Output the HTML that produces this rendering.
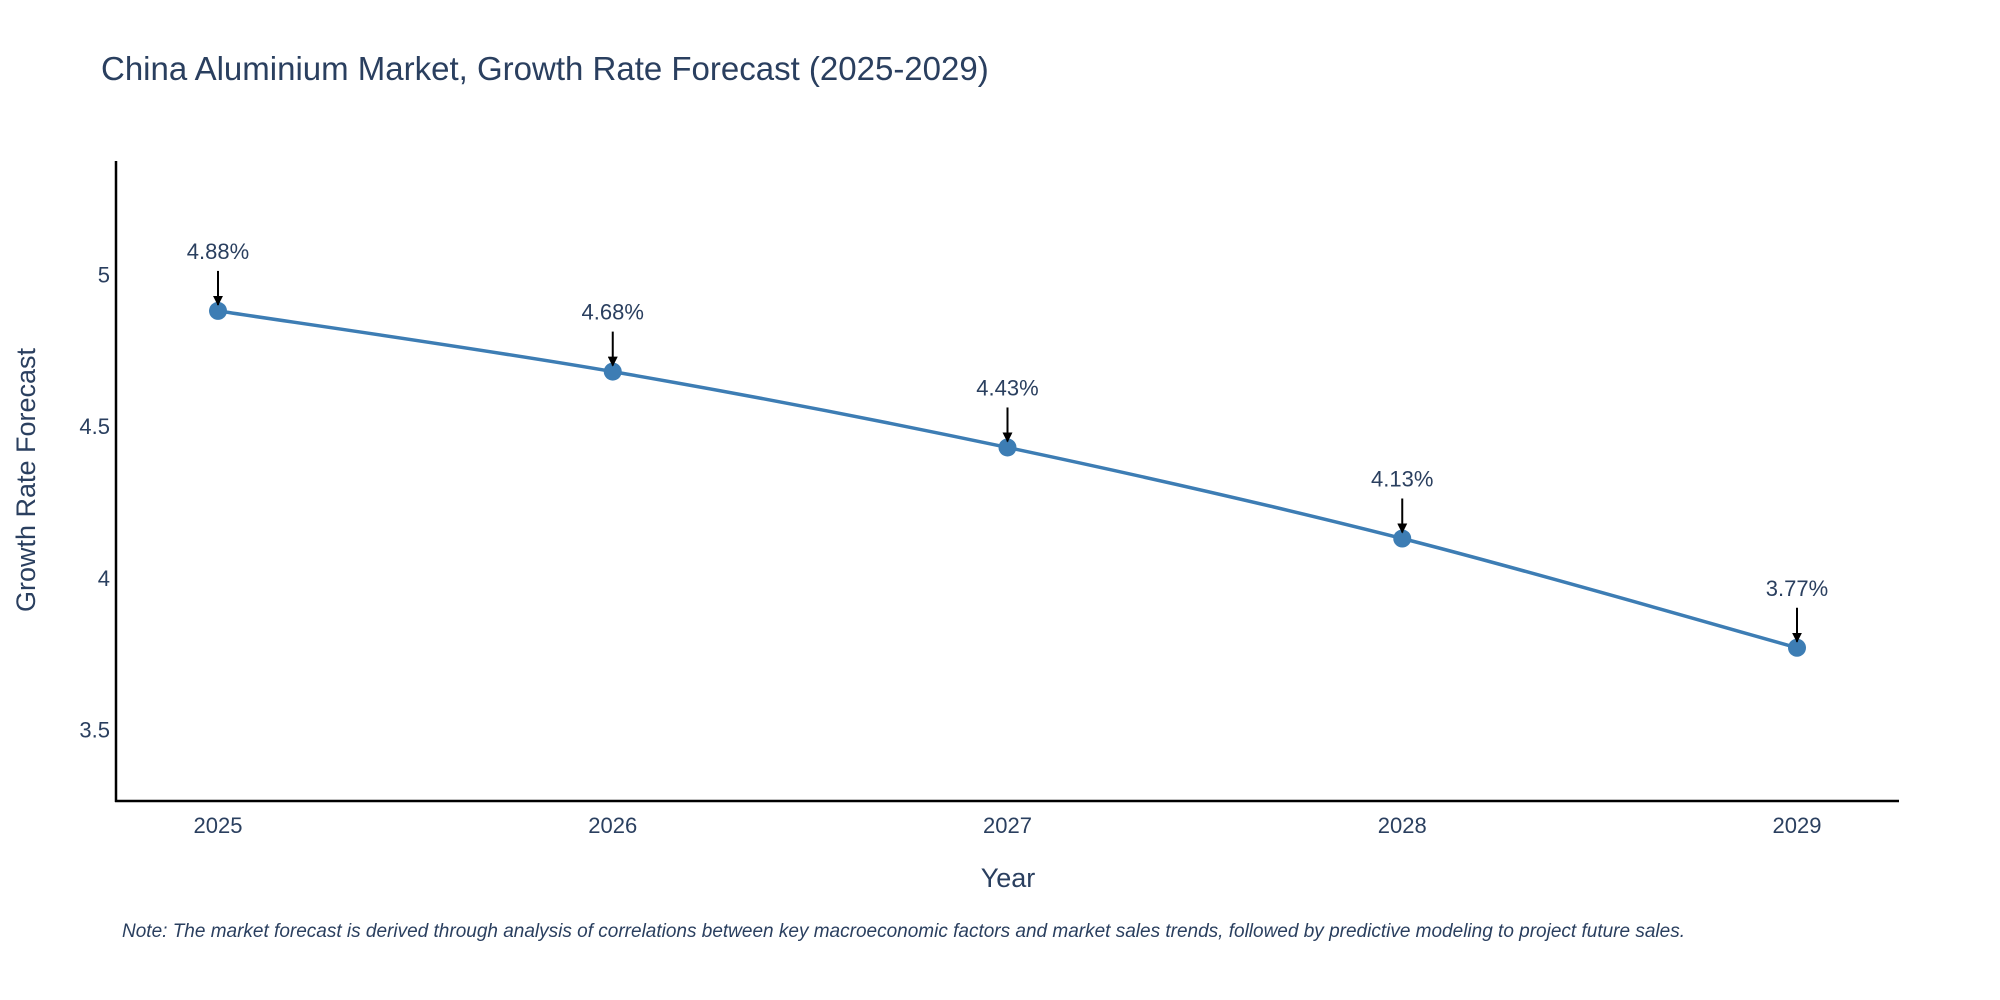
<!DOCTYPE html>
<html><head><meta charset="utf-8"><style>
html,body{margin:0;padding:0;background:#fff;}
svg{display:block;font-family:"Liberation Sans","DejaVu Sans",sans-serif;}
</style></head><body>
<svg id="chart" width="2000" height="1000" viewBox="0 0 2000 1000" xmlns="http://www.w3.org/2000/svg">
<defs><marker id="ah" viewBox="0 0 10 10" refX="9" refY="5" markerWidth="5" markerHeight="5" orient="auto"><path d="M0,0 L10,5 L0,10 z" fill="#000"/></marker></defs>
<text x="101" y="80" font-size="33" fill="#2a3f5f">China Aluminium Market, Growth Rate Forecast (2025-2029)</text>
<g id="plot"></g>
<text x="1008" y="887" font-size="27" fill="#2a3f5f" text-anchor="middle">Year</text>
<text x="0" y="0" font-size="27" fill="#2a3f5f" text-anchor="middle" transform="translate(35,480) rotate(-90)">Growth Rate Forecast</text>
<text x="122" y="937" font-size="19" font-style="italic" fill="#2a3f5f">Note: The market forecast is derived through analysis of correlations between key macroeconomic factors and market sales trends, followed by predictive modeling to project future sales.</text>
</svg>
<script>
const years = ["2025","2026","2027","2028","2029"];
const values = [4.88, 4.68, 4.43, 4.13, 3.77];
const labels = ["4.88%","4.68%","4.43%","4.13%","3.77%"];
const yTicks = [3.5, 4, 4.5, 5];
const yTickLabels = ["3.5","4","4.5","5"];

const NS="http://www.w3.org/2000/svg";
const g=document.getElementById('plot');
const L=116,R=1899,T=161,B=801;
const x0=218,x1=1797;
function xs(i){return x0+(x1-x0)*i/(years.length-1);}
const yMin=3.265,yMax=5.374;
function ys(v){return B-(v-yMin)/(yMax-yMin)*(B-T);}
function mk(tag,attrs){const e=document.createElementNS(NS,tag);for(const k in attrs)e.setAttribute(k,attrs[k]);g.appendChild(e);return e;}

let e=mk('line',{x1:L,y1:T,x2:L,y2:B+1,stroke:'#000','stroke-width':2.5});

e=mk('line',{x1:L-1,y1:B,x2:R,y2:B,stroke:'#000','stroke-width':2.5});


yTicks.forEach((t,i)=>{
  const el=mk('text',{x:L-6,y:ys(t)+8,'font-size':22,fill:'#2a3f5f','text-anchor':'end'});
  el.textContent=yTickLabels[i];
  
  
});
years.forEach((yr,i)=>{
  const el=mk('text',{x:xs(i),y:833,'font-size':22,fill:'#2a3f5f','text-anchor':'middle'});
  el.textContent=yr;
  
  
});

// spline path (Catmull-Rom)
const pts=values.map((v,i)=>[xs(i),ys(v)]);
let d=`M${pts[0][0]},${pts[0][1]}`;
for(let i=0;i<pts.length-1;i++){
  const p0=pts[Math.max(0,i-1)],p1=pts[i],p2=pts[i+1],p3=pts[Math.min(pts.length-1,i+2)];
  const s=1/6;
  d+=` C${p1[0]+(p2[0]-p0[0])*s},${p1[1]+(p2[1]-p0[1])*s} ${p2[0]-(p3[0]-p1[0])*s},${p2[1]-(p3[1]-p1[1])*s} ${p2[0]},${p2[1]}`;
}
e=mk('path',{d:d,fill:'none',stroke:'#3d7db4','stroke-width':3.5});


pts.forEach((p,i)=>{
  const c=mk('circle',{cx:p[0],cy:p[1],r:9,fill:'#3d7db4'});
  
  
  const a=mk('line',{x1:p[0],y1:p[1]-40,x2:p[0],y2:p[1]-6,stroke:'#000','stroke-width':2,'marker-end':'url(#ah)'});
  
  
  const t=mk('text',{x:p[0],y:p[1]-52,'font-size':22,fill:'#2a3f5f','text-anchor':'middle'});
  t.textContent=labels[i];
  
  
});
</script>
</body></html>
